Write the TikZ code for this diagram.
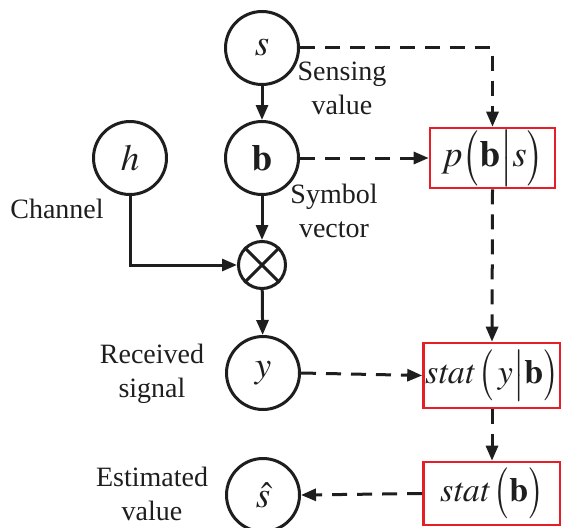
\documentclass[tikz,border=0pt]{standalone}
\usepackage{mathptmx}
\usepackage{graphicx}
\usepackage[no-math]{fontspec}
\setmainfont{Liberation Serif}
\usetikzlibrary{arrows.meta}
\definecolor{boxred}{RGB}{230,30,40}
\definecolor{ink}{RGB}{30,30,30}
% slightly stretched delimiters for the block formulas
\newcommand{\bigopen}{\mathopen{\raisebox{-0.08em}{\scalebox{1}[1.25]{$\bigl($}}}}
\newcommand{\bigclose}{\mathclose{\raisebox{-0.08em}{\scalebox{1}[1.25]{$\bigr)$}}}}
\newcommand{\bigbar}{\mathrel{\raisebox{-0.08em}{\scalebox{1}[1.25]{$\big|$}}}}
\begin{document}
\begin{tikzpicture}[x=1pt,y=-1pt,
  every node/.style={font=\fontsize{28}{34}\selectfont, text=ink},
  var/.style={draw=ink, circle, line width=3pt, minimum size=73pt, inner sep=0pt,
    font=\fontsize{37}{40}\selectfont},
  mult/.style={draw=ink, circle, line width=3pt, minimum size=47pt, inner sep=0pt},
  stat/.style={draw=boxred, rectangle, line width=2.6pt, inner sep=0pt,
    font=\fontsize{34}{40}\selectfont},
  lbl/.style={align=center, inner sep=0pt},
  solidarrow/.style={draw=ink, line width=3pt, -{Triangle[length=15pt,width=12pt]}},
  dasharrow/.style={draw=ink, line width=3pt, dash pattern=on 15pt off 10pt, -{Triangle[length=15pt,width=12pt]}},
  ]
\useasboundingbox (0,0) rectangle (561,527);

% variables of the model
\node[var] (s) at (262,48) {$\mathit{s}$};
\node[var] (b) at (262,158) {$\mathbf{b}$};
\node[var] (h) at (130,158) {$\mathit{h}$};
\node[mult] (m) at (262,265) {};
\node[var] (y) at (263,373) {$\mathit{y}$};
\node[var] (sh) at (263,495) {$\hat{s}$};

% estimation blocks
\node[stat, minimum width=125pt, minimum height=60pt, font=\fontsize{37}{40}\selectfont] (p) at (492.5,158)
  {$p\bigopen\mathbf{b}\mskip-4mu\bigbar\mskip-4mu s\bigclose$};
\node[stat, minimum width=137pt, minimum height=65pt] (sy) at (492,375.5)
  {$\mathit{stat}\,\bigopen\,y\mskip-4mu\bigbar\mskip-4mu\mathbf{b}\bigclose$};
\node[stat, minimum width=137pt, minimum height=63pt] (sb) at (492,493.5)
  {$\mathit{stat}\,\bigopen\mathbf{b}\bigclose$};

% labels
\node[lbl] (ls) at (342,88) {Sensing\\value};
\node[lbl] (lb) at (334,211) {Symbol\\vector};
\node[lbl] (lh) at (57,209) {Channel};
\node[lbl] (ly) at (152,374) {Received\\signal};
\node[lbl] (le) at (152,494) {Estimated\\value};

% multiplier cross
\draw[ink, line width=3pt] (m.45) -- (m.225) (m.135) -- (m.315);

% signal path
\draw[solidarrow] (s) -- (b);
\draw[solidarrow] (b) -- (m);
\draw[solidarrow] (h.south) |- (m.west);
\draw[solidarrow] (m) -- (y);

% inference path
\draw[dasharrow] (s.east) -| (p.north);
\draw[dasharrow] (b.east) -- (p.west);
\draw[dasharrow] (p.south) -- (sy.north);
\draw[dasharrow] (y.east) -- (sy.west);
\draw[dasharrow] (sy.south) -- (sb.north);
\draw[dasharrow] (sb.west) -- (sh.east);
\end{tikzpicture}
\end{document}
